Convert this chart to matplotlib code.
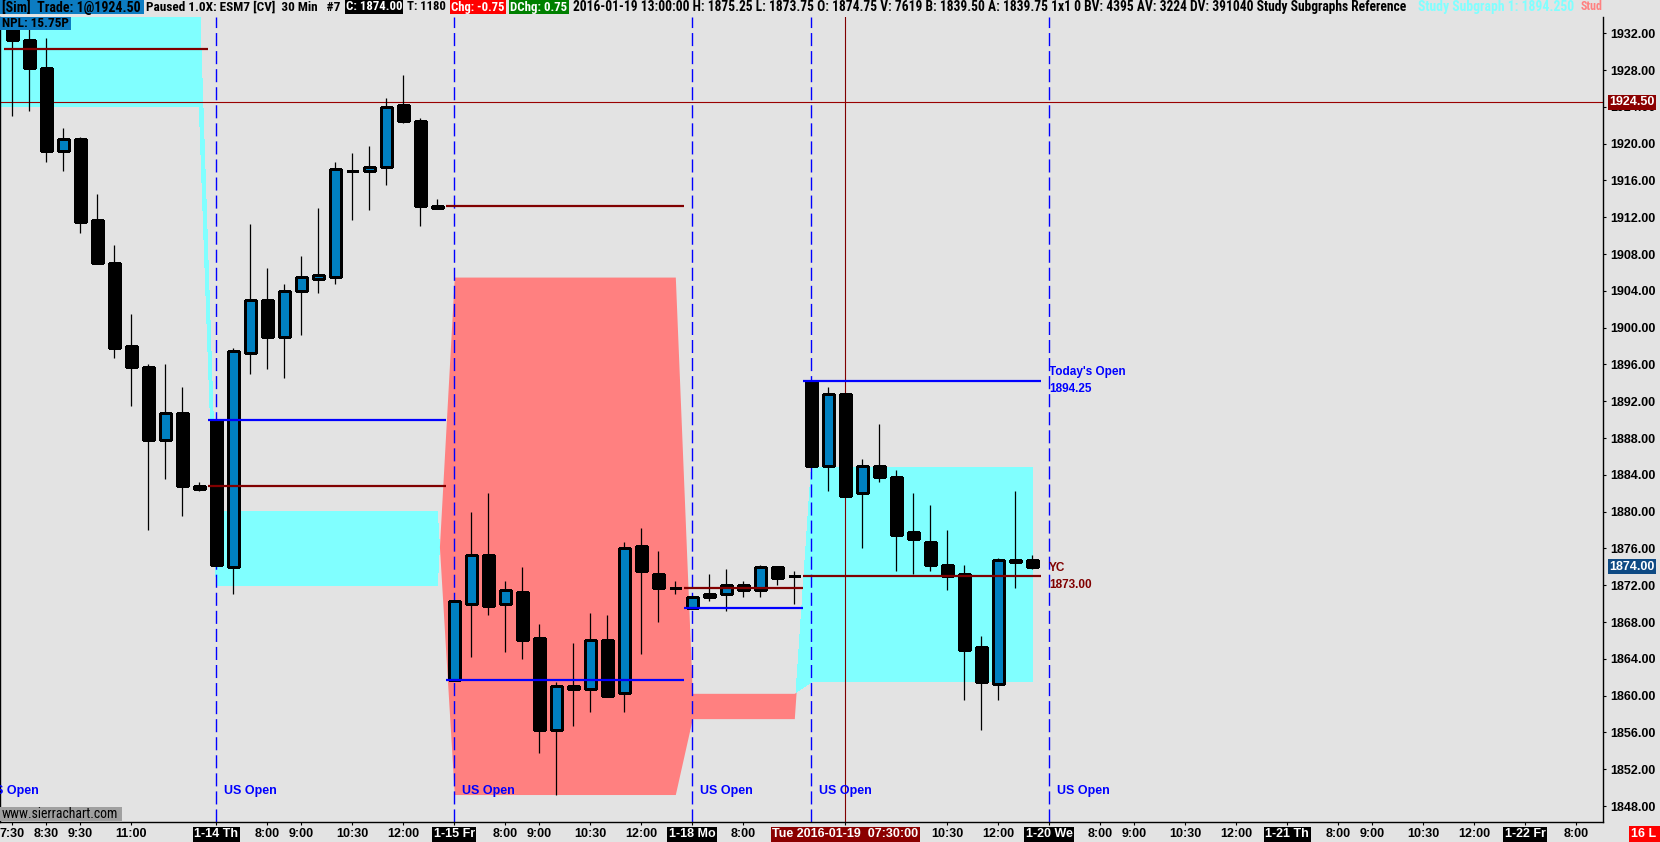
import numpy as np
import matplotlib
matplotlib.use("Agg")
import matplotlib.pyplot as plt
from matplotlib import font_manager
from matplotlib.patches import Rectangle
from matplotlib.transforms import blended_transform_factory, offset_copy

# ---- ESM7 30 min bars (bar index 0 = 1-13 07:30) ----
bar_open = [1932.50, 1931.25, 1928.25, 1919.25, 1920.50, 1911.75, 1907.00, 1898.00, 1895.75, 1887.75,
            1890.75, 1882.50, 1890.00, 1874.00, 1897.25, 1903.00, 1899.00, 1904.00, 1905.25, 1905.50,
            1917.00, 1917.00, 1917.50, 1924.25, 1922.50, 1913.00, 1861.75, 1870.00, 1875.25, 1870.00,
            1871.25, 1866.25, 1856.25, 1861.00, 1860.75, 1866.00, 1860.25, 1876.25, 1873.25, 1871.75,
            1869.50, 1870.75, 1871.00, 1872.00, 1871.50, 1874.00, 1873.00, 1894.25, 1885.00, 1892.75,
            1882.00, 1885.00, 1883.75, 1877.75, 1876.75, 1874.25, 1873.25, 1865.25, 1861.25, 1874.50,
            1874.75]
bar_high = [1933.50, 1933.00, 1931.50, 1921.75, 1920.75, 1914.50, 1909.00, 1901.50, 1896.00, 1896.00,
            1893.50, 1883.25, 1890.00, 1897.75, 1911.25, 1906.50, 1904.75, 1907.75, 1913.00, 1918.00,
            1919.00, 1919.75, 1925.00, 1927.50, 1922.75, 1914.00, 1870.25, 1880.00, 1882.00, 1872.50,
            1874.00, 1867.75, 1861.50, 1865.75, 1869.00, 1868.75, 1876.75, 1878.25, 1875.75, 1872.50,
            1870.75, 1873.25, 1873.75, 1872.50, 1874.25, 1874.00, 1873.50, 1894.25, 1893.50, 1892.75,
            1885.75, 1889.50, 1884.50, 1882.00, 1880.75, 1878.00, 1874.25, 1866.50, 1875.00, 1882.25,
            1875.25]
bar_low = [1923.00, 1923.50, 1918.00, 1917.00, 1910.25, 1907.00, 1896.75, 1891.50, 1878.00, 1883.50,
           1879.50, 1882.25, 1874.25, 1871.00, 1895.00, 1895.50, 1894.50, 1899.25, 1903.75, 1904.75,
           1911.75, 1912.75, 1915.50, 1922.25, 1911.00, 1913.00, 1861.75, 1864.25, 1868.75, 1864.75,
           1864.00, 1853.75, 1849.25, 1856.75, 1858.25, 1860.00, 1858.25, 1864.50, 1868.00, 1871.00,
           1869.50, 1870.25, 1869.25, 1870.75, 1870.75, 1872.00, 1870.00, 1885.00, 1882.25, 1881.75,
           1876.00, 1883.25, 1873.50, 1873.25, 1873.50, 1871.50, 1859.50, 1856.25, 1859.50, 1871.75,
           1873.75]
bar_close = [1931.25, 1928.25, 1919.25, 1920.50, 1911.50, 1907.00, 1897.75, 1895.75, 1887.75, 1890.75,
             1882.75, 1882.75, 1874.25, 1897.50, 1903.00, 1899.00, 1904.00, 1905.50, 1905.75, 1917.25,
             1917.00, 1917.50, 1924.00, 1922.50, 1913.25, 1913.25, 1870.25, 1875.25, 1869.75, 1871.50,
             1866.00, 1856.25, 1861.00, 1860.75, 1866.00, 1860.00, 1876.00, 1873.50, 1871.75, 1871.75,
             1870.75, 1871.00, 1872.00, 1871.50, 1874.00, 1872.75, 1873.00, 1885.00, 1892.75, 1881.75,
             1885.00, 1883.75, 1877.50, 1877.00, 1874.25, 1873.00, 1865.00, 1861.50, 1874.75, 1874.75,
             1874.00]

# sessions: 1-13, 1-14, 1-15, 1-18, 1-19
session_first = [-2, 12, 26, 40, 47]
session_last = [11, 25, 39, 46, 60]
session_open = [np.nan, 1890.00, 1861.75, 1869.50, 1894.25]
session_yc = [1930.25, 1882.75, 1913.25, 1871.75, 1873.00]
band_sg1 = [1936.00, 1880.00, 1849.25, 1857.50, 1884.75]
band_sg2 = [1924.00, 1872.00, 1905.50, 1860.25, 1861.50]
us_open_bars = [-2, 12, 26, 40, 47, 61]
cursor_bar = 49
position_price = 1924.50
last_price = 1874.00

x_tick_bars = [0, 2, 4, 7, 12, 15, 17, 20, 23, 26, 29, 31, 34, 37, 40, 43, 49, 55, 58,
               61, 64, 66, 69, 72, 75, 78, 80, 83, 86, 89, 92]
x_tick_labels = ["7:30", "8:30", "9:30", "11:00", "1-14 Th", "8:00", "9:00", "10:30", "12:00",
                 "1-15 Fr", "8:00", "9:00", "10:30", "12:00", "1-18 Mo", "8:00",
                 "Tue 2016-01-19  07:30:00", "10:30", "12:00", "1-20 We", "8:00", "9:00", "10:30",
                 "12:00", "1-21 Th", "8:00", "9:00", "10:30", "12:00", "1-22 Fr", "8:00"]
day_tick_labels = ["1-14 Th", "1-15 Fr", "1-18 Mo", "1-20 We", "1-21 Th", "1-22 Fr"]
y_ticks = np.arange(1848, 1933, 4)

# ---- look ----
BG = "#E3E3E3"
CYAN = "#80FFFF"
PINK = "#FF8080"
UP_BODY = "#0080C0"
DARK_RED = "#800000"
BLUE = "#0000FF"

fonts = {f.name for f in font_manager.fontManager.ttflist}
SANS = "Liberation Sans" if "Liberation Sans" in fonts else "DejaVu Sans"
NARROW = SANS
for cand in ("Liberation Sans Narrow", "Roboto Condensed", "Open Sans Condensed", "DejaVu Sans Condensed"):
    if cand in fonts:
        NARROW = cand
        break

W, H = 1660, 842
PLOT_R, PLOT_T, PLOT_B = 1603, 17, 822
BAR0_X, BAR_PX = 12.3, 17.0
REF_Y, REF_P, PX_PER_PT = 33.3, 1932.0, 9.199

fig = plt.figure(figsize=(W / 100, H / 100), dpi=100, facecolor=BG)
ax = fig.add_axes([0, 1 - PLOT_B / H, PLOT_R / W, (PLOT_B - PLOT_T) / H], facecolor=BG)
ax.set_xlim(-BAR0_X / BAR_PX, (PLOT_R - BAR0_X) / BAR_PX)
ax.set_ylim(REF_P - (PLOT_B - REF_Y) / PX_PER_PT, REF_P + (REF_Y - PLOT_T) / PX_PER_PT)

# band fill between the two study subgraphs
fx, f1, f2 = [], [], []
for first, last, a, b in zip(session_first, session_last, band_sg1, band_sg2):
    for i in range(max(first, -1), last + 1):
        fx.append(i)
        f1.append(a)
        f2.append(b)
fx, f1, f2 = np.array(fx, float), np.array(f1), np.array(f2)
ax.fill_between(fx, f1, f2, where=f1 >= f2, interpolate=True, color=CYAN, lw=0,
                antialiased=False, zorder=1)
ax.fill_between(fx, f1, f2, where=f1 <= f2, interpolate=True, color=PINK, lw=0,
                antialiased=False, zorder=1)

ymin, ymax = ax.get_ylim()
ax.vlines(us_open_bars[1:], ymin, ymax, colors=BLUE, lw=1.0, linestyles=(0, (9.4, 3.6)), zorder=2)
ax.axvline(cursor_bar, color=DARK_RED, lw=0.8, zorder=2)
ax.axhline(position_price, color="#990000", lw=0.8, zorder=2)

# candles
o, hi, lo, c = map(np.array, (bar_open, bar_high, bar_low, bar_close))
xb = np.arange(len(o))
ax.vlines(xb, lo, hi, colors="black", lw=0.9, zorder=4)
ax.bar(xb, np.abs(c - o), bottom=np.minimum(o, c), width=11 / BAR_PX,
       color=np.where(c > o, UP_BODY, "black"), edgecolor="black", linewidth=0.8,
       antialiased=False, zorder=5)

# session lines: yesterday close and today's open
for first, last, op, yc in zip(session_first, session_last, session_open, session_yc):
    x0, x1 = max(first, 0) - 0.5, last + 0.5
    ax.hlines(yc, x0, x1, colors=DARK_RED, lw=1.6, zorder=6)
    if not np.isnan(op):
        ax.hlines(op, x0, x1, colors=BLUE, lw=1.6, zorder=6)

lbl_x = session_last[-1] + 0.97
up_tr = offset_copy(ax.transData, fig=fig, x=0, y=8.5, units="dots")
dn_tr = offset_copy(ax.transData, fig=fig, x=0, y=-8.5, units="dots")
lkw = dict(ha="left", va="center", fontsize=8.5, fontweight="bold", family=SANS, zorder=7)
ax.text(lbl_x, session_open[-1], "Today's Open", color=BLUE, transform=up_tr, **lkw)
ax.text(lbl_x, session_open[-1], f"{session_open[-1]:.2f}", color=BLUE, transform=dn_tr, **lkw)
ax.text(lbl_x, session_yc[-1], "YC", color=DARK_RED, transform=up_tr, **lkw)
ax.text(lbl_x, session_yc[-1], f"{session_yc[-1]:.2f}", color=DARK_RED, transform=dn_tr, **lkw)

us_tr = offset_copy(blended_transform_factory(ax.transData, ax.transAxes), fig=fig,
                    x=8, y=0, units="dots")
for b in us_open_bars:
    ax.text(b, (PLOT_B - 791) / (PLOT_B - PLOT_T), "US Open", transform=us_tr, color=BLUE,
            fontsize=9, fontweight="bold", family=SANS, ha="left", va="center",
            clip_on=True, zorder=7)

# axes
ax.spines["top"].set_visible(False)
for side in ("left", "right", "bottom"):
    ax.spines[side].set_color("black")
    ax.spines[side].set_linewidth(1.0)
ax.yaxis.tick_right()
ax.set_yticks(y_ticks)
ax.set_yticklabels([f"{v:.2f}" for v in y_ticks])
ax.set_xticks(x_tick_bars)
ax.set_xticklabels(x_tick_labels)
ax.tick_params(axis="y", direction="out", length=2.5, width=0.8, pad=3, labelsize=9)
ax.tick_params(axis="x", direction="out", length=2, width=0.8, pad=2.5, labelsize=9)
for t in ax.get_yticklabels() + ax.get_xticklabels():
    t.set_family(SANS)
    t.set_fontweight("bold")
for t in ax.get_xticklabels():
    if t.get_text() in day_tick_labels:
        t.set_color("white")
        t.set_bbox(dict(boxstyle="square,pad=0.12", fc="black", ec="none"))
    elif t.get_text().startswith("Tue"):
        t.set_color("white")
        t.set_bbox(dict(boxstyle="square,pad=0.12", fc="#8B0000", ec="none"))

ytr = offset_copy(blended_transform_factory(ax.transAxes, ax.transData), fig=fig,
                  x=6, y=0, units="dots")
for price, col in ((position_price, "#8B0000"), (last_price, "#0E4A84")):
    ax.text(1.0, price, f"{price:.2f}", transform=ytr, color="white", fontsize=9,
            fontweight="bold", family=SANS, ha="left", va="center", clip_on=False, zorder=10,
            bbox=dict(boxstyle="square,pad=0.12", fc=col, ec="none"))

# figure-level header and badges
renderer = fig.canvas.get_renderer()


def box(x0, y0, x1, y1, color):
    fig.add_artist(Rectangle((x0 / W, 1 - y1 / H), (x1 - x0) / W, (y1 - y0) / H,
                             transform=fig.transFigure, fc=color, ec="none", zorder=2))


def ftext(x, y, s, width=None, color="black", size=9.5, weight="bold", family=NARROW, ha="left"):
    t = fig.text(x / W, 1 - y / H, s, ha=ha, va="center", color=color, fontsize=size,
                 fontweight=weight, family=family, zorder=3)
    if width:
        w = t.get_window_extent(renderer).width
        t.set_fontsize(min(size * width / w, 10.5))
    return t


HY = 7
box(0, 0, 144, 13.5, "#0C7CC2")
ftext(2, HY, "[Sim]  Trade: 1@1924.50", 138)
ftext(146, HY, "Paused 1.0X: ESM7 [CV]  30 Min   #7", 196)
box(345, 0, 403, 13.5, "black")
ftext(346, HY, "C: 1874.00", 57, color="white")
ftext(407, HY, "T: 1180", 39)
box(450, 0, 506, 13.5, "#FF0000")
ftext(451, HY, "Chg: -0.75", 54, color="white")
box(509, 0, 569, 13.5, "#008000")
ftext(510, HY, "DChg: 0.75", 58, color="white")
ftext(573, HY, "2016-01-19 13:00:00 H: 1875.25 L: 1873.75 O: 1874.75 V: 7619 B: 1839.50 "
               "A: 1839.75 1x1 0 BV: 4395 AV: 3224 DV: 391040 Study Subgraphs Reference", 838)
ftext(1418, HY, "Study Subgraph 1: 1894.250", 156, color=CYAN)
ftext(1581, HY, "Stud", 22, color=PINK)

box(0, 17, 71, 30, "#0C7CC2")
ftext(2, 23.5, "NPL: 15.75P", 67)

box(0, 807, 122, 821, "#A0A0A0")
ftext(2, 814, "www.sierrachart.com", 117, weight="normal")

box(1629, 826, 1660, 842, "#FF0000")
ftext(1644, 834, "16 L", color="white", size=9, family=SANS, ha="center")

fig.savefig("out.png", dpi=100, facecolor=BG)
